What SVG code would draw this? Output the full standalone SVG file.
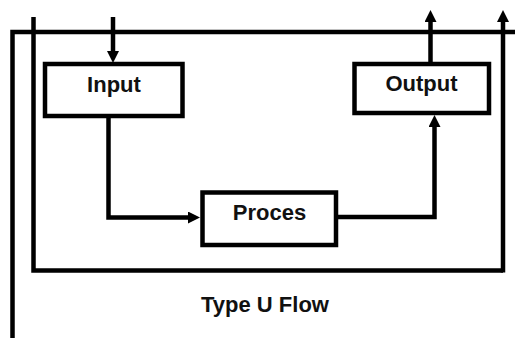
<svg xmlns="http://www.w3.org/2000/svg" width="515" height="338" viewBox="0 0 515 338">
  <style>
    .ln { fill: none; stroke: #000; stroke-width: 4.5; }
    .box { fill: #fff; stroke: #000; stroke-width: 4.5; }
    .lbl { font-family: "Liberation Sans", Arial, sans-serif; font-weight: bold; font-size: 22px; fill: #111; text-anchor: middle; }
  </style>
  <defs>
    <marker id="arr" viewBox="0 0 12 12" markerUnits="userSpaceOnUse" markerWidth="12" markerHeight="12" refX="2" refY="6" orient="auto">
      <path d="M0,0 L12,6 L0,12 z" fill="#000"/>
    </marker>
  </defs>
  <rect width="515" height="338" fill="#fff"/>
  <g id="connectors">
    <path class="ln" d="M515,32 H12.5 V338"/>
    <path class="ln" d="M33.5,17 V270.5 H503"/>
    <path class="ln" d="M503,272.5 V20" marker-end="url(#arr)"/>
    <path class="ln" d="M113,17 V53" marker-end="url(#arr)"/>
    <path class="ln" d="M108.5,118 V217.5 H190" marker-end="url(#arr)"/>
    <path class="ln" d="M336,217 H434.5 V125" marker-end="url(#arr)"/>
    <path class="ln" d="M430.5,62 V20" marker-end="url(#arr)"/>
  </g>
  <g id="input">
    <rect class="box" x="45" y="64" width="137.5" height="52"/>
    <text class="lbl" x="114" y="92">Input</text>
  </g>
  <g id="output">
    <rect class="box" x="354.5" y="64" width="134.5" height="49"/>
    <text class="lbl" x="421.5" y="91">Output</text>
  </g>
  <g id="proces">
    <rect class="box" x="202.5" y="192.5" width="133.5" height="52.5"/>
    <text class="lbl" x="269.5" y="220">Proces</text>
  </g>
  <text id="title" class="lbl" x="265" y="312">Type U Flow</text>
</svg>
